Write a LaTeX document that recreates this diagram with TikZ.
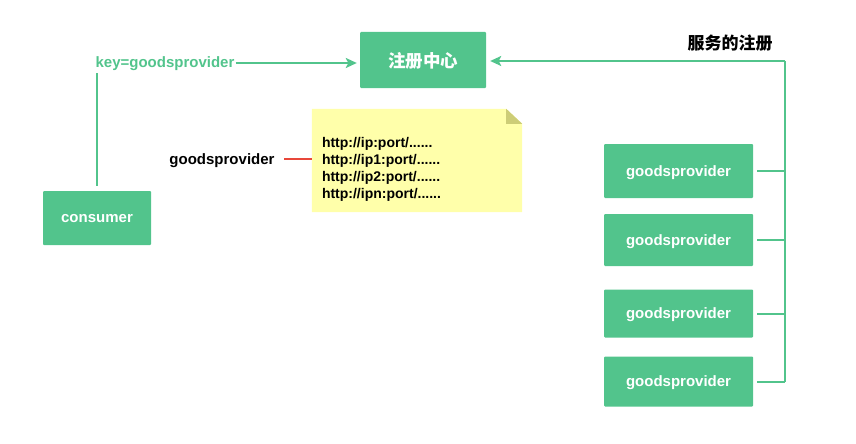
\documentclass[tikz,border=0pt]{standalone}
\usepackage{fontspec}
\setmainfont{Liberation Sans}
\newfontfamily\cjk{Noto Sans CJK SC}
\usepackage{xcolor}
\usepackage{tikz}
\usetikzlibrary{arrows.meta}
\definecolor{boxgreen}{HTML}{52C48C}
\definecolor{noteyellow}{HTML}{FFFFAA}
\definecolor{notefold}{HTML}{CDCD77}
\definecolor{linkred}{HTML}{E8473A}
\tikzset{
	greenbox/.style={shape=rectangle, fill=boxgreen, draw=none, rounded corners=1pt, text=white, text depth=0pt, font=\bfseries\fontsize{15}{17}\selectfont},
	link/.style={draw=boxgreen, line width=2pt},
	tip/.style={-{Stealth[length=11pt,width=10pt,inset=2.5pt]}},
}

\begin{document}
\begin{tikzpicture}[x=1pt,y=-1pt]
	\useasboundingbox (0,0) rectangle (856,444);
%	registry and consumer
	\node (registry) at (423,60)[greenbox, minimum width=126, minimum height=56]{\cjk\bfseries\fontsize{17.5}{20}\selectfont 注册中心};
	\node (consumer) at (97,218)[greenbox, minimum width=108, minimum height=54]{consumer};
	\node (key) at (165,64)[text=boxgreen, inner sep=1pt, font=\bfseries\fontsize{15}{17}\selectfont]{key=goodsprovider};
	\draw[link] ([yshift=5]consumer.north) -- (consumer.north |- 0,73);
	\draw[link, tip, shorten >=3pt] ([yshift=1]key.east) -- ([yshift=1]key.east -| registry.west);
	% the note with the address list
	\node (note) at (417,160.5)[shape=rectangle, minimum width=210, minimum height=103, inner sep=0]{};
	\fill[noteyellow] (note.north west) -- ([xshift=-16]note.north east) -- ([yshift=-15]note.north east) -- (note.south east) -- (note.south west) -- cycle;
	\fill[notefold] ([xshift=-16]note.north east) -- ([xshift=-16,yshift=-15]note.north east) -- ([yshift=-15]note.north east) -- cycle;
	\node (urls) at (417,165.5)[text width=190, inner xsep=10, inner ysep=0, align=left, font=\bfseries\fontsize{14}{17}\selectfont]{\mbox{}\\http://ip:port/......\\http://ip1:port/......\\http://ip2:port/......\\http://ipn:port/......};
	\node (name) at (222,161)[font=\bfseries\fontsize{15}{17}\selectfont]{goodsprovider};
	\draw[draw=linkred, line width=1.5pt] ([xshift=6,yshift=2]name.east) -- ([yshift=2]note.west |- name.east);
	% providers and the registration bus
	\node (title) at (730,43)[font=\cjk\bfseries\fontsize{17}{20}\selectfont]{服务的注册};
	\coordinate (bus) at (785,61);
	\foreach \i/\y/\h in {1/171/54, 2/240/52, 3/313.5/48, 4/381.5/50}{
		\node (p\i) at (678.5,\y)[greenbox, minimum width=149, minimum height=\h]{goodsprovider};
		\draw[link] ([xshift=4]p\i.east) -- (p\i.east -| bus);
	}
	\draw[link] (bus) -- (bus |- p4.east);
	\draw[link, tip, shorten >=4pt] (bus) -- (bus -| registry.east);
\end{tikzpicture}
\end{document}
